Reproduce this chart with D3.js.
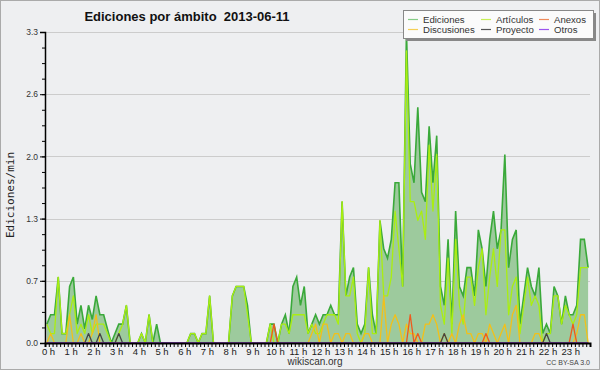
<!DOCTYPE html>
<html><head><meta charset="utf-8">
<script src="https://cdn.jsdelivr.net/npm/d3@7"></script>
<style>html,body{margin:0;padding:0;background:#eeeeee;} svg{display:block;}</style>
</head><body>
<svg id="c" width="600" height="370"></svg>
<script>
const title = "Ediciones por ámbito  2013-06-11";
const yTitle = "Ediciones/min";
const hourLabels = ["0 h","1 h","2 h","3 h","4 h","5 h","6 h","7 h","8 h","9 h","10 h","11 h","12 h","13 h","14 h","15 h","16 h","17 h","18 h","19 h","20 h","21 h","22 h","23 h"];
const yTickValues = [0, 0.66, 1.32, 1.98, 2.64, 3.3];
const yTickLabels = ["0.0","0.7","1.3","2.0","2.6","3.3"];
const seriesNames = ["Ediciones","Artículos","Anexos","Discusiones","Proyecto","Otros"];

// 144 ten-minute bins, edits per minute
const ediciones = [
0.2,0.3,0.3,0.7,0.1,0.1,
0.6,0.7,0.2,0.4,0.15,0.4,
0.25,0.5,0.3,0.3,0.15,0,
0.1,0.2,0.2,0.4,0,0,
0,0.1,0,0.3,0,0.2,
0,0,0,0,0,0,
0,0,0.1,0.1,0,0.1,
0.1,0.5,0,0,0,0,
0,0.5,0.6,0.6,0.6,0.4,
0,0,0,0,0,0.2,
0.2,0,0.2,0.3,0.1,0.6,
0.7,0.4,0.6,0.1,0.2,0.3,
0.2,0.3,0.3,0.4,0.3,0.3,
1.5,0.5,0.7,0.8,0.2,0.1,
0.2,0.8,0.3,0.1,1.3,1.0,
0.9,1.1,1.7,1.7,0.6,3.3,
1.9,1.7,2.5,1.6,1.5,2.3,
1.7,2.2,0.6,0.4,1.1,0.2,
1.4,0.6,0.5,0.8,0.8,0.5,
1.2,1.0,0.6,1.1,1.4,1.0,
1.2,2.0,0.8,1.1,1.2,0.2,
0.5,0.8,0.6,0.5,0.8,0.1,
0.2,0.1,0.6,0.5,0.2,0.5,
0.3,0.3,0.4,1.1,1.1,0.8];
const articulos = [
0.2,0.1,0.1,0.7,0.1,0.1,
0.3,0.5,0.1,0.2,0.1,0.3,
0.1,0.2,0.2,0.2,0.1,0,
0,0.1,0.2,0.4,0,0,
0,0.1,0,0.3,0,0,
0,0,0,0,0,0,
0,0,0.1,0.1,0,0.1,
0.1,0.5,0,0,0,0,
0,0.5,0.6,0.6,0.6,0.3,
0,0,0,0,0,0.2,
0,0,0.2,0.2,0.1,0.3,
0.3,0.3,0.3,0.1,0.2,0.1,
0.1,0.2,0.3,0.3,0.3,0.2,
1.5,0.5,0.5,0.7,0.1,0,
0.1,0.8,0.1,0.1,1.3,0.5,
0.5,0.7,1.4,1.0,0.6,3.1,
1.5,1.5,1.3,1.4,1.1,2.1,
1.4,2.0,0.4,0.2,0.9,0.1,
1.1,0.4,0.2,0.7,0.7,0.4,
0.8,1.0,0.3,0.7,1.0,0.6,
1.2,1.2,0.3,0.6,0.7,0.1,
0.4,0.7,0.4,0.5,0.4,0,
0.1,0.1,0.5,0.5,0.2,0.4,
0.3,0.2,0.3,0.8,0.8,0.8];
const discusiones = [
0,0.1,0,0,0,0,
0.3,0,0,0.1,0,0,
0.1,0.3,0,0,0,0,
0,0,0,0,0,0,
0,0,0,0,0,0,
0,0,0,0,0,0,
0,0,0,0,0,0,
0,0,0,0,0,0,
0,0,0,0,0,0,
0,0,0,0,0,0,
0,0,0,0,0,0,
0,0,0,0,0.1,0.2,
0,0.2,0.2,0,0.1,0.1,
0,0.1,0.1,0,0,0,
0.1,0.1,0,0,0,0.5,
0,0.2,0.3,0.2,0,0.2,
0.1,0.1,0,0,0.2,0.2,
0.3,0.2,0,0.1,0,0.1,
0,0.2,0.3,0.1,0.1,0,
0.1,0.1,0,0.2,0.1,0,
0.1,0.2,0,0.3,0.4,0,
0,0,0,0.1,0.1,0,
0,0,0,0,0,0,
0,0,0.1,0.3,0.3,0];
const anexos = [
0,0,0,0,0,0, 0,0,0,0,0,0, 0,0,0,0,0,0, 0,0,0,0,0,0,
0,0,0,0,0,0, 0,0,0,0,0,0, 0,0,0,0,0,0, 0,0,0,0,0,0,
0,0,0,0,0,0, 0,0,0,0,0,0, 0.2,0,0,0,0,0, 0,0,0,0,0,0,
0,0,0,0,0,0, 0,0,0,0,0,0, 0,0,0,0,0,0, 0,0,0,0,0,0,
0.3,0,0.1,0,0,0, 0,0,0,0,0,0, 0,0,0,0,0,0, 0,0,0.1,0,0,0,
0,0,0,0,0,0, 0,0,0,0,0,0, 0,0,0,0,0,0, 0,0.2,0,0,0,0];
const proyecto = [
0,0,0,0,0,0, 0,0,0,0,0,0.1, 0,0,0.1,0,0,0, 0,0.1,0,0,0,0,
0,0,0,0,0,0, 0,0,0,0,0,0, 0,0,0,0,0,0, 0,0,0,0,0,0,
0,0,0,0,0,0, 0,0,0,0,0,0, 0,0,0,0,0,0, 0,0,0,0,0,0,
0,0,0,0,0,0, 0,0,0,0,0,0, 0,0,0,0,0,0, 0,0,0,0,0,0,
0,0,0,0,0,0, 0,0,0,0.1,0,0, 0,0,0,0,0,0, 0,0,0,0,0,0,
0,0,0,0,0,0, 0,0,0,0,0,0, 0.1,0,0,0,0,0, 0,0,0,0,0,0];
const otros = [
0,0,0,0,0,0, 0,0,0,0,0,0, 0,0,0,0,0,0, 0,0,0,0,0,0,
0,0,0,0,0,0, 0,0,0,0,0,0, 0,0,0,0,0,0, 0,0,0,0,0,0,
0,0,0,0,0,0, 0,0,0,0,0,0, 0,0,0,0,0,0, 0,0,0,0,0,0,
0,0,0,0,0,0, 0,0,0,0,0,0, 0,0,0,0,0,0, 0,0,0,0,0,0,
0,0,0,0,0,0, 0,0,0,0,0,0, 0,0,0,0,0,0, 0,0,0,0,0,0,
0,0,0,0,0,0, 0,0,0,0,0,0, 0,0,0,0,0,0, 0,0,0,0,0,0];

const colors = {
  "Ediciones":"#3aa93a", "Artículos":"#aaee11", "Anexos":"#ee5a1e",
  "Discusiones":"#f2c01a", "Proyecto":"#444444", "Otros":"#9b44ee"
};
const legendColors = {
  "Ediciones":"#86cc86", "Artículos":"#c6ee55", "Anexos":"#ee8a5a",
  "Discusiones":"#f5cf55", "Proyecto":"#555555", "Otros":"#9b55ee"
};

const svg = d3.select('#c');
svg.append('rect').attr('x',0.5).attr('y',0.5).attr('width',599).attr('height',369)
  .attr('fill','#eeeff1').attr('stroke','#aaaaaa');

const x = d3.scaleLinear().domain([0,144]).range([45,590]);
const y = d3.scaleLinear().domain([0,3.3]).range([343,32]);

// gridlines
svg.append('g').selectAll('line').data(yTickValues.slice(1)).join('line')
  .attr('x1',45).attr('x2',590).attr('y1',d=>Math.round(y(d))+0.5).attr('y2',d=>Math.round(y(d))+0.5)
  .attr('stroke','#cccccc').attr('stroke-width',1);

const px = (d,i)=>x(i+0.5);
const area = d3.area().x(px).y0(y(0)).y1(d=>y(d));
const line = d3.line().x(px).y(d=>y(d));

svg.append('path').datum(ediciones).attr('d',area).attr('fill','#9dca9d');
svg.append('path').datum(ediciones).attr('d',line).attr('fill','none')
  .attr('stroke',colors["Ediciones"]).attr('stroke-width',1.6);

const lineSeries = [["Artículos",articulos],["Discusiones",discusiones],["Anexos",anexos],["Proyecto",proyecto],["Otros",otros]];
lineSeries.forEach(([name,data])=>{
  svg.append('path').datum(data).attr('d',line).attr('fill','none')
    .attr('stroke',colors[name]).attr('stroke-width',1.3).attr('stroke-linejoin','round');
});

// Y axis
const yMinor = d3.range(0,21).map(k=>k*3.3/20);
const yAxisMinor = d3.axisLeft(y).tickValues(yMinor).tickSize(3).tickFormat('');
const gyMinor = svg.append('g').attr('transform','translate(45,0)').call(yAxisMinor);
gyMinor.select('.domain').remove();
const yAxis = d3.axisLeft(y).tickValues(yTickValues).tickSize(5).tickPadding(2)
  .tickFormat((d,i)=>yTickLabels[i]);
const gy = svg.append('g').attr('transform','translate(45,0)').call(yAxis);
gy.select('.domain').attr('stroke','#000').attr('stroke-width',1.5);
gy.selectAll('text').attr('font-family','Liberation Sans, Arial, sans-serif').attr('font-size',8.5).attr('fill','#333');

// X axis
const xAxis = d3.axisBottom(x).tickValues(d3.range(0,145)).tickSize(4).tickPadding(1)
  .tickFormat(d=> (d%6===0 && d<144) ? hourLabels[d/6] : '');
const gx = svg.append('g').attr('transform','translate(0,343)').call(xAxis);
gx.select('.domain').attr('stroke','#000').attr('stroke-width',2);
gx.selectAll('text').attr('font-family','Liberation Sans, Arial, sans-serif').attr('font-size',9.5).attr('fill','#222')
  .attr('dx',3);
gx.selectAll('.tick line').attr('stroke','#000');

// Titles
svg.append('text').attr('x',187).attr('y',21).attr('text-anchor','middle')
  .attr('font-family','Liberation Sans, Arial, sans-serif').attr('font-weight','bold').attr('font-size',13)
  .attr('fill','#111').style('white-space','pre').text(title);
svg.append('text').attr('transform','translate(14,195) rotate(-90)').attr('text-anchor','middle')
  .attr('font-family','DejaVu Sans Mono, monospace').attr('font-size',11).attr('fill','#222').text(yTitle);
svg.append('text').attr('x',315).attr('y',365).attr('text-anchor','middle')
  .attr('font-family','Liberation Sans, Arial, sans-serif').attr('font-size',10).attr('fill','#333').text('wikiscan.org');
svg.append('text').attr('x',590).attr('y',365).attr('text-anchor','end')
  .attr('font-family','Liberation Sans, Arial, sans-serif').attr('font-size',7).attr('fill','#444').text('CC BY-SA 3.0');

// Legend
const lg = svg.append('g');
lg.append('rect').attr('x',406).attr('y',13).attr('width',190).attr('height',28).attr('fill','#888');
lg.append('rect').attr('x',403.5).attr('y',10.5).attr('width',190).attr('height',28)
  .attr('fill','#fbfbfb').attr('stroke','#888');
const colX = [408,481,539];
const rowY = [19.5,29.5];
seriesNames.forEach((name,i)=>{
  const cx = colX[i%3], cy = rowY[Math.floor(i/3)];
  lg.append('line').attr('x1',cx).attr('x2',cx+10).attr('y1',cy).attr('y2',cy)
    .attr('stroke',legendColors[name]).attr('stroke-width',1.2);
  lg.append('text').attr('x',cx+15).attr('y',cy+3.5)
    .attr('font-family','Liberation Sans, Arial, sans-serif').attr('font-size',9.6).attr('fill','#333').text(name);
});
</script>
</body></html>
